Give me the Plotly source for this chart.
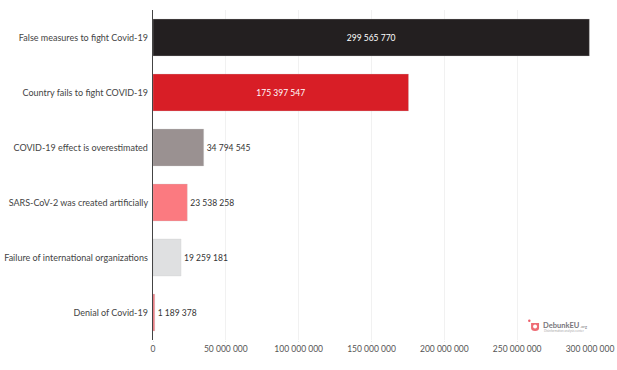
import plotly.graph_objects as go

categories = ["False measures to fight Covid-19", "Country fails to fight COVID-19",
              "COVID-19 effect is overestimated", "SARS-CoV-2 was created artificially",
              "Failure of international organizations", "Denial of Covid-19"]
values = [299565770, 175397547, 34794545, 23538258, 19259181, 1189378]
colors = ["#231f20", "#d81e26", "#9a9191", "#fb7a80", "#dfe0e1", "#f0757c"]
tick_values = [0, 50000000, 100000000, 150000000, 200000000, 250000000, 300000000]
tick_labels = ["0", "50 000 000", "100 000 000", "150 000 000", "200 000 000", "250 000 000", "300 000 000"]
value_labels = ["299 565 770", "175 397 547", "34 794 545", "23 538 258", "19 259 181", "1 189 378"]
label_colors = ["#ffffff", "#ffffff", "#333333", "#333333", "#333333", "#333333"]
label_positions = ["inside", "inside", "outside", "outside", "outside", "outside"]

FONT = "Lato, 'Open Sans', sans-serif"
L, R, T, B = 152.5, 590.0, 9.5, 340.0


def px(x):
    return (x - L) / (R - L)


def py(y):
    return (B - y) / (B - T)


fig = go.Figure(go.Bar(
    x=values, y=categories, orientation="h", width=0.67,
    marker=dict(color=colors, line=dict(color="rgba(200,200,200,0.6)", width=0.5)),
    text=value_labels, textposition=label_positions, insidetextanchor="middle",
    textangle=0, cliponaxis=False, constraintext="none",
    textfont=dict(family=FONT, size=8.5, color=label_colors),
))
fig.update_layout(
    width=617, height=370, autosize=False, showlegend=False,
    margin=dict(l=L, r=617 - R, t=T, b=370 - B),
    paper_bgcolor="#ffffff", plot_bgcolor="#ffffff",
    font=dict(family=FONT, size=9, color="#444444"),
    xaxis=dict(range=[0, 300000000], tickmode="array", tickvals=tick_values, ticktext=tick_labels,
               showgrid=True, gridcolor="#f1f1f1", gridwidth=1, zeroline=False, showline=False,
               automargin=False,
               ticks="outside", ticklen=1, tickcolor="#e4e4e4", tickfont=dict(size=8.5, color="#555555")),
    yaxis=dict(autorange="reversed", showline=True, linecolor="#444444", linewidth=1, automargin=False,
               showgrid=False, ticks="", ticksuffix=" ", tickfont=dict(size=9, color="#444444")),
    annotations=[
        dict(xref="paper", yref="paper", x=px(541), y=py(325), xanchor="left", yanchor="middle",
             text="<b>DebunkEU</b><span style='font-size:4px'> .org</span>", showarrow=False,
             font=dict(family=FONT, size=7.5, color="#77757a")),
        dict(xref="paper", yref="paper", x=px(542), y=py(330.5), xanchor="left", yanchor="middle",
             text="Disinformation analysis center", showarrow=False,
             font=dict(family=FONT, size=3, color="#aaaaaa")),
    ],
    shapes=[
        dict(type="circle", xref="paper", yref="paper", x0=px(528), x1=px(530.5), y0=py(322), y1=py(319.5),
             fillcolor="#ee5f6b", line_width=0),
        dict(type="path", xref="paper", yref="paper",
             path=(f"M {px(531)} {py(323)} L {px(539)} {py(323)} L {px(539)} {py(328)} "
                   f"Q {px(539)} {py(331)} {px(535)} {py(331)} Q {px(531)} {py(331)} {px(531)} {py(328)} Z"),
             fillcolor="#ee6b74", line_width=0),
        dict(type="circle", xref="paper", yref="paper", x0=px(533), x1=px(537), y0=py(328.5), y1=py(324.5),
             fillcolor="#ffffff", line_width=0),
    ],
)
fig.write_html("out.html", config={"displayModeBar": False},
               post_script="document.body.style.margin='0';document.body.style.overflow='hidden';")
